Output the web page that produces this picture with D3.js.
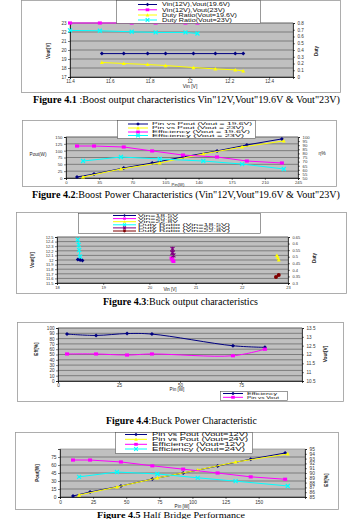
<!DOCTYPE html>
<html><head><meta charset="utf-8">
<script src="https://cdn.jsdelivr.net/npm/d3@7"></script>
<style>body{margin:0;background:#fff}svg{display:block}</style>
</head><body>
<script>
// ---------- Figure 4.1 data ----------
const f1_vin196 = [11.56, 11.67, 11.79, 11.88, 12.02, 12.13, 12.23, 12.27];
const f1_vout196 = [19.6, 19.6, 19.6, 19.6, 19.6, 19.6, 19.6, 19.6];
const f1_duty196 = [0.215, 0.2, 0.185, 0.17, 0.14, 0.12, 0.105, 0.09];
const f1_vin23 = [11.4, 11.55, 11.71, 11.83, 11.98, 12.04];
const f1_vout23 = [23, 23, 23, 23, 23, 23];
const f1_duty23 = [0.69, 0.685, 0.67, 0.66, 0.66, 0.645];
const f1_xTicks = [11.4, 11.6, 11.8, 12, 12.2, 12.4];
const f1_yLTicks = [17, 18, 19, 20, 21, 22, 23];
const f1_yRTicks = [0, 0.1, 0.2, 0.3, 0.4, 0.5, 0.6, 0.7, 0.8];
const f1_legend = ["Vin(12V),Vout(19.6V)", "Vin(12V),Vout(23V)", "Duty Ratio(Vout=19.6V)", "Duty Ratio(Vout=23V)"];

// ---------- Figure 4.2 data ----------
const f2_pin196 = [11.6, 29.6, 61, 91, 123.5, 159.5, 191, 228];
const f2_pout196 = [3.7, 14.6, 36.6, 55, 77, 99, 121, 143];
const f2_eff196 = [89, 89, 87.8, 83, 78, 75.6, 70.7, 68.3];
const f2_pin23 = [18, 58, 99, 145, 186, 230];
const f2_pout23 = [3.7, 33, 55, 88, 113.5, 135.5];
const f2_eff23 = [70.7, 75.6, 73.2, 70.7, 67, 61];
const f2_xTicks = [0, 35, 70, 105, 140, 175, 210, 245];
const f2_yLTicks = [0, 25, 50, 75, 100, 125, 150];
const f2_yRTicks = [50, 55, 60, 65, 70, 75, 80, 85, 90, 95, 100];
const f2_legend = ["Pin vs Pout (Vout = 19.6V)", "Pin vs Pout (Vout = 23V)", "Efficiency (Vout = 19.6V)", "Efficiency (Vout = 23V)"];

// ---------- Figure 4.3 data ----------
const f3_vinA = [18.45, 18.5, 18.55];
const f3_voutA = [12.01, 12.0, 11.99];
const f3_vinB = [20.48, 20.5, 20.52];
const f3_voutB = [12.04, 12.0, 11.97];
const f3_vinC = [22.76, 22.78, 22.8];
const f3_voutC = [12.1, 12.05, 12.0];
const f3_dvinA = [18.45, 18.47, 18.48, 18.5];
const f3_dutyA = [0.63, 0.59, 0.55, 0.5];
const f3_dvinB = [20.5, 20.5, 20.52];
const f3_dutyB = [0.56, 0.53, 0.51];
const f3_dvinC = [22.74, 22.8];
const f3_dutyC = [0.345, 0.36];
const f3_xTicks = [18, 19, 20, 21, 22, 23];
const f3_yLTicks = [11.5, 11.6, 11.7, 11.8, 11.9, 12, 12.1, 12.2, 12.3, 12.4, 12.5];
const f3_yRTicks = [0.3, 0.35, 0.4, 0.45, 0.5, 0.55, 0.6, 0.65];
const f3_legend = ["Vin=18.5V", "Vin=20.5V", "Vin=22.8V", "Duty Ratio (Vin=18.5V)", "Duty Ratio (Vin=20.5V)", "Duty Ratio (Vin=22.8V)"];

// ---------- Figure 4.4 data ----------
const f4_pin = [3.7, 15.6, 28.3, 38.5, 71.7, 84.8];
const f4_eff = [88.5, 86, 89.5, 88.5, 66.5, 63.5];
const f4_vout = [12.03, 12.03, 11.97, 12.03, 11.93, 12.3];
const f4_xTicks = [0, 25, 50, 75];
const f4_yLTicks = [0, 10, 20, 30, 40, 50, 60, 70, 80, 90, 100];
const f4_yRTicks = [10.5, 11, 11.5, 12, 12.5, 13, 13.5];
const f4_legend = ["Efficiency", "Pin vs Vout"];

// ---------- Figure 4.5 data ----------
const f5_pin12 = [9.8, 22.7, 46, 69.7, 93, 119, 144, 170];
const f5_pout12 = [1.9, 9.4, 20.6, 33.8, 45, 58, 71, 82.5];
const f5_eff12 = [92.7, 92.7, 92.3, 91.5, 90.8, 90, 89.2, 88.7];
const f5_pin24 = [14.4, 43, 73.5, 104, 132.6, 172];
const f5_pout24 = [3.7, 18.8, 35.6, 50.6, 65.6, 80.6];
const f5_eff24 = [89.2, 90.2, 89.8, 89, 88.3, 87.3];
const f5_xTicks = [0, 25, 50, 75, 100, 125, 150];
const f5_yLTicks = [0, 15, 30, 45, 60, 75];
const f5_yRTicks = [85, 86, 87, 88, 89, 90, 91, 92, 93, 94, 95];
const f5_legend = ["Pin vs Pout (Vout=12V)", "Pin vs Pout (Vout=24V)", "Efficiency (Vout=12V)", "Efficiency (Vout=24V)"];

const captions = [
  ["Figure 4.1", " :Boost output characteristics Vin\"12V,Vout\"19.6V & Vout\"23V)"],
  ["Figure 4.2", ":Boost Power Characteristics (Vin\"12V,Vout\"19.6V & Vout\"23V)"],
  ["Figure 4.3", ":Buck output characteristics"],
  ["Figure 4.4", ":Buck Power Characteristic"],
  ["Figure 4.5", " Half Bridge Performance"]
];

const NAVY = "#000080", MAG = "#ff00ff", YEL = "#ffff00", CYA = "#00ffff", PUR = "#800080", DRED = "#800000";
const SANS = "'Liberation Sans', Arial, sans-serif";
const SERIF = "'Liberation Serif', 'Times New Roman', serif";

const svg = d3.select("body").append("svg").attr("width", 351).attr("height", 519);

function marker(g, type, cx, cy, color, s) {
  s = s || 2;
  let p;
  if (type === "diamond") p = `M${cx},${cy - s}L${cx + s},${cy}L${cx},${cy + s}L${cx - s},${cy}Z`;
  else if (type === "square") p = `M${cx - s},${cy - s * 0.8}h${2 * s}v${1.6 * s}h${-2 * s}Z`;
  else if (type === "triangle") p = `M${cx},${cy - s}L${cx + s},${cy + s * 0.8}L${cx - s},${cy + s * 0.8}Z`;
  else if (type === "x") {
    g.append("path").attr("d", `M${cx - s},${cy - s}L${cx + s},${cy + s}M${cx - s},${cy + s}L${cx + s},${cy - s}`)
      .attr("stroke", color).attr("stroke-width", 1.2).attr("fill", "none");
    return;
  } else if (type === "star") {
    g.append("path").attr("d", `M${cx - s},${cy - s}L${cx + s},${cy + s}M${cx - s},${cy + s}L${cx + s},${cy - s}M${cx},${cy - s}L${cx},${cy + s}`)
      .attr("stroke", color).attr("stroke-width", 1.2).attr("fill", "none");
    return;
  } else if (type === "circle") {
    g.append("circle").attr("cx", cx).attr("cy", cy).attr("r", s).attr("fill", color);
    return;
  }
  g.append("path").attr("d", p).attr("fill", color);
}

function drawChart(c) {
  const g = svg.append("g");
  const [fx, fy, fw, fh] = c.frame;
  g.append("rect").attr("x", fx + 0.5).attr("y", fy + 0.5).attr("width", fw).attr("height", fh)
    .attr("fill", "#fff").attr("stroke", "#9a9a9a").attr("stroke-width", 0.8);
  const [px0, py0, px1, py1] = c.plot;
  const x = d3.scaleLinear().domain(c.xDomain).range([px0, px1]);
  const yL = d3.scaleLinear().domain(c.yLDomain).range([py1, py0]);
  const yR = c.yRDomain ? d3.scaleLinear().domain(c.yRDomain).range([py1, py0]) : null;
  g.append("rect").attr("x", px0).attr("y", py0).attr("width", px1 - px0).attr("height", py1 - py0)
    .attr("fill", "#c0c0c0").attr("stroke", "#808080").attr("stroke-width", 0.6);
  g.append("g").selectAll("line").data(c.yLTicks).join("line")
    .attr("x1", px0).attr("x2", px1).attr("y1", d => yL(d)).attr("y2", d => yL(d))
    .attr("stroke", "#3a3a3a").attr("stroke-width", 0.5);

  const styleAxis = a => {
    a.attr("font-size", c.tickFont || 4.6).attr("font-family", SANS);
    a.selectAll("text").attr("fill", "#333");
    a.select(".domain").attr("stroke", "#000").attr("stroke-width", 0.7);
    a.selectAll(".tick line").attr("stroke", "#000").attr("stroke-width", 0.5);
  };
  const fmt = d => String(d);
  g.append("g").attr("transform", `translate(0,${py1})`)
    .call(d3.axisBottom(x).tickValues(c.xTicks).tickSize(2).tickPadding(1.2).tickFormat(fmt)).call(styleAxis);
  g.append("g").attr("transform", `translate(${px0},0)`)
    .call(d3.axisLeft(yL).tickValues(c.yLTicks).tickSize(2).tickPadding(1.5).tickFormat(fmt)).call(styleAxis);
  if (yR) g.append("g").attr("transform", `translate(${px1},0)`)
    .call(d3.axisRight(yR).tickValues(c.yRTicks).tickSize(2).tickPadding(2.5).tickFormat(fmt)).call(styleAxis);

  c.series.forEach(s => {
    const ys = s.axis === "R" ? yR : yL;
    const pts = s.xs.map((v, i) => [x(v), ys(s.ys[i])]);
    const line = d3.line().curve(s.curve || d3.curveLinear);
    if (s.line !== false)
      g.append("path").attr("d", line(pts)).attr("fill", "none").attr("stroke", s.color).attr("stroke-width", 1);
    const mg = g.append("g");
    pts.forEach(p => marker(mg, s.marker, p[0], p[1], s.color, s.ms || 2));
  });

  if (c.legend) {
    const L = c.legend;
    g.append("rect").attr("x", L.box[0] + 0.5).attr("y", L.box[1] + 0.5).attr("width", L.box[2]).attr("height", L.box[3])
      .attr("fill", "#fff").attr("stroke", "#555").attr("stroke-width", 0.6);
    L.rows.forEach((r, i) => {
      const ry = L.ys[i];
      g.append("line").attr("x1", L.lx0).attr("x2", L.lx1).attr("y1", ry).attr("y2", ry)
        .attr("stroke", r.color).attr("stroke-width", 1);
      marker(g, r.marker, (L.lx0 + L.lx1) / 2, ry, r.color, L.ms || 1.8);
      const t = g.append("text").attr("x", L.tx).attr("y", ry + L.fs * 0.36).text(r.label)
        .attr("font-size", L.fs).attr("font-family", SANS).attr("fill", L.fill || "#111");
      if (r.tw) t.attr("textLength", r.tw).attr("lengthAdjust", "spacingAndGlyphs");
    });
  }
  (c.titles || []).forEach(t => {
    g.append("text").attr("transform", `translate(${t.x},${t.y}) rotate(${t.r || 0})`)
      .attr("text-anchor", "middle").attr("dominant-baseline", "middle")
      .attr("font-size", t.fs || 5).attr("font-family", SANS).attr("font-weight", t.bold ? "bold" : "normal")
      .attr("fill", "#222").text(t.text);
  });
}

function caption(i, x0, x1, y, fs) {
  const t = svg.append("text").attr("x", x0).attr("y", y).attr("font-family", SERIF).attr("font-size", fs).attr("fill", "#000")
    .attr("textLength", x1 - x0).attr("lengthAdjust", "spacingAndGlyphs");
  t.append("tspan").attr("font-weight", "bold").text(captions[i][0]);
  t.append("tspan").text(captions[i][1]);
}

// Figure 4.1
drawChart({
  frame: [21, 0, 319, 92], plot: [70, 23, 293, 77],
  xDomain: [11.4, 12.52], yLDomain: [17, 23], yRDomain: [0, 0.8],
  xTicks: f1_xTicks, yLTicks: f1_yLTicks, yRTicks: f1_yRTicks,
  series: [
    { xs: f1_vin196, ys: f1_vout196, color: NAVY, marker: "diamond" },
    { xs: f1_vin23, ys: f1_vout23, color: MAG, marker: "square" },
    { xs: f1_vin196, ys: f1_duty196, axis: "R", color: YEL, marker: "triangle" },
    { xs: f1_vin23, ys: f1_duty23, axis: "R", color: CYA, marker: "x" }
  ],
  legend: { box: [116, 0, 144, 23], lx0: 138, lx1: 157, tx: 162, fs: 5, ys: [4.5, 9.8, 15, 20],
    rows: [
      { label: f1_legend[0], color: NAVY, marker: "diamond", tw: 68 },
      { label: f1_legend[1], color: MAG, marker: "square", tw: 63 },
      { label: f1_legend[2], color: YEL, marker: "triangle", tw: 75 },
      { label: f1_legend[3], color: CYA, marker: "x", tw: 70 }
    ] },
  titles: [
    { text: "Vout[V]", x: 49, y: 51, r: -90, fs: 4.6, bold: true },
    { text: "Duty", x: 317, y: 51, r: -90, fs: 4.6, bold: true },
    { text: "Vin [V]", x: 190, y: 87, fs: 5 }
  ]
});
caption(0, 33, 340, 103, 9.5);

// Figure 4.2
drawChart({
  frame: [22, 120, 314, 66], plot: [66, 137, 298, 178],
  xDomain: [0, 245], yLDomain: [0, 150], yRDomain: [50, 100],
  xTicks: f2_xTicks, yLTicks: f2_yLTicks, yRTicks: f2_yRTicks, tickFont: 4.3,
  series: [
    { xs: f2_pin196, ys: f2_pout196, color: NAVY, marker: "diamond" },
    { xs: f2_pin23, ys: f2_pout23, color: YEL, marker: "triangle" },
    { xs: f2_pin196, ys: f2_eff196, axis: "R", color: MAG, marker: "square" },
    { xs: f2_pin23, ys: f2_eff23, axis: "R", color: CYA, marker: "x" }
  ],
  legend: { box: [117, 120, 138, 18], lx0: 128, lx1: 148, tx: 152, fs: 4, ys: [124, 128, 132, 135.5],
    rows: [
      { label: f2_legend[0], color: NAVY, marker: "diamond", tw: 100 },
      { label: f2_legend[1], color: YEL, marker: "triangle", tw: 92 },
      { label: f2_legend[2], color: MAG, marker: "square", tw: 98 },
      { label: f2_legend[3], color: CYA, marker: "x", tw: 92 }
    ] },
  titles: [
    { text: "Pout(W)", x: 38, y: 155, fs: 4.6 },
    { text: "η%", x: 322, y: 154, fs: 5 },
    { text: "Pin(W)", x: 178, y: 184.5, fs: 4.2 }
  ]
});
caption(1, 32, 340, 198, 9.5);

// Figure 4.3
drawChart({
  frame: [16, 212, 330, 81], plot: [57, 237, 288, 283],
  xDomain: [18, 23], yLDomain: [11.5, 12.5], yRDomain: [0.3, 0.65],
  xTicks: f3_xTicks, yLTicks: f3_yLTicks, yRTicks: f3_yRTicks, tickFont: 4,
  series: [
    { xs: f3_dvinA, ys: f3_dutyA, axis: "R", color: CYA, marker: "x" },
    { xs: f3_vinA, ys: f3_voutA, color: NAVY, marker: "diamond" },
    { xs: f3_vinB, ys: f3_voutB, color: MAG, marker: "square" },
    { xs: f3_dvinB, ys: f3_dutyB, axis: "R", color: PUR, marker: "star" },
    { xs: f3_vinC, ys: f3_voutC, color: YEL, marker: "triangle" },
    { xs: f3_dvinC, ys: f3_dutyC, axis: "R", color: DRED, marker: "circle" }
  ],
  legend: { box: [78, 213, 182, 20], lx0: 113, lx1: 136, tx: 138, fs: 3.1, ms: 1.4,
    ys: [215.5, 218.6, 221.7, 224.8, 227.9, 231], fill: "#222",
    rows: [
      { label: f3_legend[0], color: NAVY, marker: "diamond", tw: 40 },
      { label: f3_legend[1], color: MAG, marker: "square", tw: 40 },
      { label: f3_legend[2], color: YEL, marker: "triangle", tw: 40 },
      { label: f3_legend[3], color: CYA, marker: "x", tw: 92 },
      { label: f3_legend[4], color: PUR, marker: "star", tw: 92 },
      { label: f3_legend[5], color: DRED, marker: "circle", tw: 92 }
    ] },
  titles: [
    { text: "Vout[V]", x: 33, y: 260, r: -90, fs: 4.6, bold: true },
    { text: "Duty", x: 315, y: 258, r: -90, fs: 4.6, bold: true },
    { text: "Vin [V]", x: 170, y: 289.5, fs: 4.5 }
  ]
});
caption(2, 103, 258, 305, 9.5);

// Figure 4.4
drawChart({
  frame: [17, 322, 326, 79], plot: [58, 328, 302, 381],
  xDomain: [0, 100], yLDomain: [0, 100], yRDomain: [10.5, 13.5],
  xTicks: f4_xTicks, yLTicks: f4_yLTicks, yRTicks: f4_yRTicks, tickFont: 4.6,
  series: [
    { xs: f4_pin, ys: f4_eff, color: NAVY, marker: "diamond", curve: d3.curveCatmullRom },
    { xs: f4_pin, ys: f4_vout, axis: "R", color: MAG, marker: "square", curve: d3.curveCatmullRom }
  ],
  legend: { box: [220, 391, 67, 9], lx0: 223, lx1: 243, tx: 247, fs: 3.6, ys: [393.5, 397.3],
    rows: [
      { label: f4_legend[0], color: NAVY, marker: "diamond", tw: 30 },
      { label: f4_legend[1], color: MAG, marker: "square", tw: 32 }
    ] },
  titles: [
    { text: "Eff[%]", x: 37, y: 349, r: -90, fs: 4.6, bold: true },
    { text: "Vout[V]", x: 326, y: 354, r: -90, fs: 4.8, bold: true },
    { text: "Pin [W]", x: 177, y: 389.5, fs: 4.6 }
  ]
});
caption(3, 106, 257, 424, 9.5);

// Figure 4.5
drawChart({
  frame: [15, 432, 323, 77], plot: [60, 449, 305, 497],
  xDomain: [0, 185], yLDomain: [0, 90], yRDomain: [85, 95],
  xTicks: f5_xTicks, yLTicks: f5_yLTicks, yRTicks: f5_yRTicks, tickFont: 4.8,
  series: [
    { xs: f5_pin12, ys: f5_pout12, color: NAVY, marker: "diamond" },
    { xs: f5_pin24, ys: f5_pout24, color: YEL, marker: "triangle" },
    { xs: f5_pin12, ys: f5_eff12, axis: "R", color: MAG, marker: "square" },
    { xs: f5_pin24, ys: f5_eff24, axis: "R", color: CYA, marker: "x" }
  ],
  legend: { box: [115, 432, 137, 21], lx0: 125, lx1: 147, tx: 152, fs: 4.6, ys: [434.5, 439.3, 444.3, 449],
    rows: [
      { label: f5_legend[0], color: NAVY, marker: "diamond", tw: 96 },
      { label: f5_legend[1], color: YEL, marker: "triangle", tw: 96 },
      { label: f5_legend[2], color: MAG, marker: "square", tw: 93 },
      { label: f5_legend[3], color: CYA, marker: "x", tw: 93 }
    ] },
  titles: [
    { text: "Pout[W]", x: 38, y: 473, r: -90, fs: 4.6, bold: true },
    { text: "Eff[%]", x: 327, y: 480, r: -90, fs: 4.6, bold: true },
    { text: "Pin [W]", x: 182, y: 507, fs: 4.6 }
  ]
});
caption(4, 97, 245, 517.5, 8.5);
</script>
</body></html>
